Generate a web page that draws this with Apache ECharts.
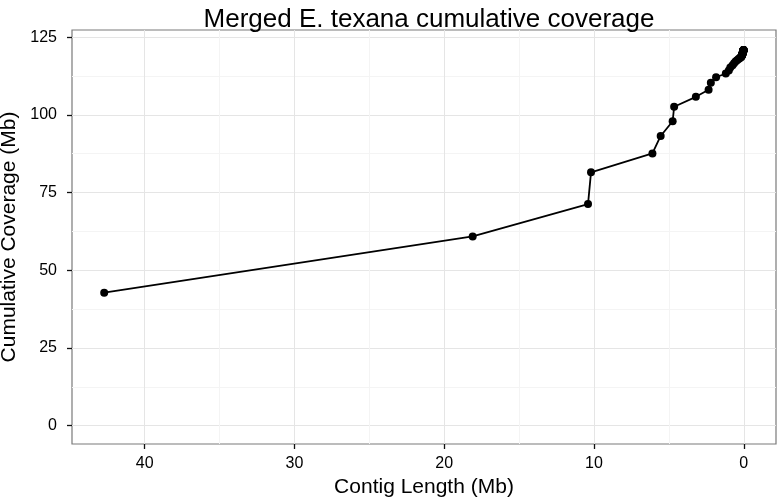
<!DOCTYPE html>
<html>
<head>
<meta charset="utf-8">
<script src="https://cdn.jsdelivr.net/npm/echarts@6.0.0/dist/echarts.min.js"></script>
<style>
  html, body { margin: 0; padding: 0; background: #fff; }
  #chart { width: 780px; height: 504px; }
</style>
</head>
<body>
<div id="chart"></div>
<script>
// contig lengths (Mb), largest first
const contigLength = [
  42.7, 18.1, 10.4, 10.2, 6.1, 5.55, 4.75, 4.65, 3.2, 2.35, 2.2, 1.85,
  1.2, 1.0, 0.9, 0.75, 0.65, 0.55, 0.45, 0.35, 0.28, 0.22, 0.18, 0.16,
  0.14, 0.13, 0.12, 0.11, 0.1, 0.1, 0.09, 0.09, 0.08, 0.08, 0.07, 0.07,
  0.07, 0.06, 0.06, 0.06, 0.05, 0.05, 0.05, 0.05, 0.04, 0.04, 0.04, 0.04,
  0.03, 0.03, 0.03, 0.03, 0.03, 0.02, 0.02, 0.02, 0.02, 0.02, 0.02, 0.01
];
// cumulative coverage (Mb) at each contig
const cumCoverage = [
  42.8, 60.9, 71.3, 81.5, 87.6, 93.2, 97.95, 102.6, 105.8, 108.1, 110.3, 112.1,
  113.3, 114.3, 115.2, 115.95, 116.6, 117.15, 117.6, 117.95, 118.23, 118.45, 118.63, 118.79,
  118.93, 119.06, 119.18, 119.29, 119.39, 119.49, 119.58, 119.67, 119.75, 119.83, 119.9, 119.97,
  120.04, 120.1, 120.16, 120.22, 120.27, 120.32, 120.37, 120.42, 120.46, 120.5, 120.54, 120.58,
  120.61, 120.64, 120.67, 120.7, 120.73, 120.75, 120.77, 120.79, 120.81, 120.83, 120.85, 120.86
];
const xTicks = [0, 10, 20, 30, 40];
const xMinor = [5, 15, 25, 35];
const yTicks = [0, 25, 50, 75, 100, 125];
const yMinor = [12.5, 37.5, 62.5, 87.5, 112.5];

const FONT = '"Liberation Sans", Arial, Helvetica, sans-serif';
const X_MIN = -2.15, X_MAX = 44.85;
const Y_MIN = -5.9, Y_MAX = 127.3;

const chart = echarts.init(document.getElementById('chart'), null, { renderer: 'canvas' });

const points = contigLength.map((x, i) => [x, cumCoverage[i]]);

// hidden axis that only draws the faint minor grid
const minorAxis = (vals, min, max, extra) => Object.assign({
  type: 'value', min: min, max: max,
  axisLine: { show: false, onZero: false },
  axisTick: { show: false, customValues: vals },
  axisLabel: { show: false },
  splitLine: { show: true, lineStyle: { color: '#f4f4f4', width: 1 } }
}, extra);

const option = {
  animation: false,
  backgroundColor: '#fff',
  textStyle: { fontFamily: FONT },
  title: {
    text: 'Merged E. texana cumulative coverage',
    left: 424,
    textAlign: 'center',
    top: 2,
    textStyle: { fontFamily: FONT, fontSize: 26, fontWeight: 'normal', color: '#000' }
  },
  grid: {
    left: 72, right: 4, top: 30, bottom: 60,
    containLabel: false, outerBoundsMode: 'none',
    show: true, borderColor: '#7a7a7a', borderWidth: 1.2, backgroundColor: 'transparent'
  },
  xAxis: [
    {
      type: 'value', inverse: true, min: X_MIN, max: X_MAX, position: 'bottom',
      name: 'Contig Length (Mb)', nameLocation: 'middle', nameGap: 32,
      nameTextStyle: { fontFamily: FONT, fontSize: 21, color: '#000' },
      axisLine: { show: false, onZero: false },
      axisTick: { show: true, length: 5, customValues: xTicks, lineStyle: { color: '#111', width: 1.3 } },
      axisLabel: { customValues: xTicks, fontSize: 16, color: '#000', margin: 12, fontFamily: FONT },
      splitLine: { show: true, lineStyle: { color: '#e5e5e5', width: 1 } }
    },
    minorAxis(xMinor, X_MIN, X_MAX, { inverse: true, position: 'bottom' })
  ],
  yAxis: [
    {
      type: 'value', min: Y_MIN, max: Y_MAX, position: 'left',
      name: 'Cumulative Coverage (Mb)', nameLocation: 'middle', nameGap: 46,
      nameTextStyle: { fontFamily: FONT, fontSize: 21, color: '#000' },
      axisLine: { show: false, onZero: false },
      axisTick: { show: true, length: 5, customValues: yTicks, lineStyle: { color: '#111', width: 1.3 } },
      axisLabel: { customValues: yTicks, fontSize: 16, color: '#000', margin: 15, fontFamily: FONT },
      splitLine: { show: true, lineStyle: { color: '#e5e5e5', width: 1 } }
    },
    minorAxis(yMinor, Y_MIN, Y_MAX, { position: 'left' })
  ],
  series: [
    {
      type: 'line',
      xAxisIndex: 0,
      yAxisIndex: 0,
      data: points,
      symbol: 'circle',
      symbolSize: 8,
      showSymbol: true,
      showAllSymbol: true,
      itemStyle: { color: '#000' },
      lineStyle: { color: '#000', width: 1.8 },
      z: 5
    }
  ]
};

chart.setOption(option);
</script>
</body>
</html>
